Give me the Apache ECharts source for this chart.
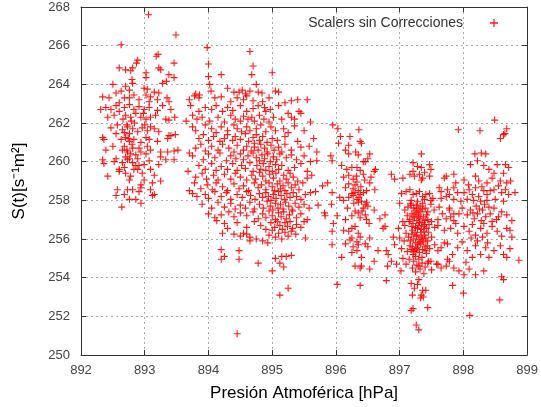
<!DOCTYPE html>
<html>
<head>
<meta charset="utf-8">
<script src="https://cdn.jsdelivr.net/npm/echarts@6/dist/echarts.min.js"></script>
<style>
    html, body { margin: 0; padding: 0; background: #fff; }
    #chart { width: 541px; height: 407px; }
</style>
</head>
<body>
<div id="chart"></div>
<script>
// axis ranges
const xRange = [892, 899];
const yRange = [250, 268];
const seriesName = 'Scalers sin Correcciones';

// points, one array per pressure cluster [hPa, S(t)]
const clusterA = [
    [893.06,267.6],[893.49,266.55],[892.63,266.05],[893.21,265.55],[893.18,265.45],[892.89,265.25],[892.87,265.1],[893.46,265.1],
    [892.6,264.85],[892.7,264.75],[892.78,264.7],[892.81,264.85],[893.22,264.85],[893.25,264.75],[893.02,264.6],[893.02,264.35],[893.38,264.5],[893.46,264.35],[893.34,264.15],[893.28,264.05],[892.8,264.25],[892.81,264.05],
    [892.5,264.0],[892.7,263.9],[892.76,263.7],[892.99,263.8],[893.04,263.75],[893.15,263.6],[893.22,263.55],[893.02,263.45],[892.34,263.35],[892.44,263.3],[892.55,263.55],[892.63,263.65],[892.68,263.3],[892.76,263.3],[892.83,263.45],[892.91,263.2],[893.09,263.35],[893.07,263.1],[893.2,263.2],[893.35,263.3],[893.38,263.1],
    [892.31,262.7],[892.39,262.8],[892.47,262.7],[892.55,262.9],[892.6,263.05],[892.68,262.8],[892.76,262.95],[892.83,262.7],[892.91,262.85],[892.99,262.7],[893.07,262.8],[893.2,262.65],[893.28,262.9],[893.41,262.7],
    [892.42,262.3],[892.52,262.4],[892.6,262.6],[892.7,262.4],[892.78,262.3],[892.86,262.5],[892.94,262.3],[893.02,262.2],[893.09,262.3],[893.17,262.4],[893.33,262.2],[893.38,262.15],
    [892.47,261.75],[892.57,261.9],[892.65,261.65],[892.73,261.8],[892.81,261.7],[892.89,261.55],[892.96,261.75],[893.04,261.6],[893.09,261.8],[893.15,261.7],[893.22,261.55],[893.38,261.35],[892.55,261.45],[892.76,261.45],
    [892.34,261.25],[892.36,261.15],[892.63,261.15],[892.7,261.25],[892.76,261.05],[892.83,261.15],[892.94,261.0],[893.02,261.25],[893.07,261.15],[893.2,261.05],[893.36,261.2],[893.41,261.35],[892.68,260.8],[892.81,260.7],[892.91,260.7],[893.04,260.8],
    [892.5,260.8],[892.39,260.6],[892.65,260.6],[892.73,260.5],[892.78,260.4],[892.86,260.35],[892.94,260.5],[893.02,260.4],[893.09,260.6],[893.25,260.5],[893.36,260.5],[893.46,260.55],[893.25,260.25],[892.7,260.25],[892.76,260.15],[892.89,260.15],[892.55,260.15],
    [892.34,260.1],[892.36,259.9],[892.52,260.0],[892.65,259.95],[892.73,260.1],[892.81,259.95],[892.91,259.8],[892.99,259.85],[893.07,260.05],[893.22,259.85],[893.33,260.1],[893.46,260.1],[892.6,259.6],[892.68,259.7],[892.83,259.6],
    [892.42,259.25],[892.6,259.5],[892.7,259.4],[892.78,259.25],[892.86,259.8],[892.89,259.6],[892.96,259.4],[893.09,259.6],[893.15,259.3],[892.76,259.05],[892.99,259.05],[893.12,258.9],[892.94,258.8],
    [892.73,258.55],[892.81,258.55],[892.94,258.65],[892.57,258.55],[892.68,258.3],[892.91,258.45],[892.55,258.25],[892.76,258.05],[892.86,258.05],[892.94,257.85],[893.09,258.55],[893.12,258.25],[892.64,257.65],
    [893.48,261.4],[893.52,260.6],[893.47,262.3],[893.25,259.0],[893.15,258.3],[892.72,261.9],[892.79,262.1],[892.68,261.5],[892.74,261.2],[892.72,260.6],[892.8,260.9],[892.84,262.0],[892.66,262.2],[893.0,261.9],[892.98,262.5]
];

const clusterB = [
    [893.98,265.9],[894.65,265.7],[894.0,265.05],[894.7,264.95],[894.2,264.5],[894.0,264.4],[894.68,264.5],[895.0,264.6],[894.75,264.0],[894.02,264.0],
    [894.04,263.65],[894.3,263.8],[894.48,263.6],[894.53,263.7],[894.58,263.5],[894.65,263.65],[894.78,263.6],[894.84,263.55],[895.05,263.65],[895.1,263.6],[894.4,263.6],[893.8,263.5],[893.86,263.45],
    [893.7,263.2],[893.78,263.4],[893.85,263.3],[894.1,263.3],[894.2,263.35],[894.35,263.1],[894.45,263.3],[894.55,263.2],[894.6,263.4],[894.7,263.15],[894.85,263.1],[894.95,263.3],[895.4,263.2],[895.55,263.2],[895.2,263.05],[895.3,263.15],
    [893.72,262.9],[893.85,262.6],[893.95,262.8],[894.05,262.7],[894.12,262.9],[894.22,262.6],[894.3,262.8],[894.38,262.65],[894.5,262.9],[894.6,262.6],[894.7,262.75],[894.78,262.9],[894.88,262.8],[894.9,262.6],[894.97,262.7],[895.1,262.9],[895.25,262.5],[895.42,262.6],[895.45,262.5],
    [893.65,262.1],[893.75,262.4],[893.82,262.2],[893.9,262.3],[894.02,262.1],[894.15,262.3],[894.25,262.05],[894.35,262.4],[894.42,262.2],[894.5,262.1],[894.55,262.35],[894.62,262.2],[894.68,262.3],[894.72,262.1],[894.8,262.4],[894.87,262.2],[894.95,262.05],[895.02,262.3],[895.15,262.2],[895.3,262.3],[895.35,262.2],[895.6,262.05],
    [893.75,261.8],[893.8,261.6],[893.95,261.9],[894.05,261.7],[894.12,261.5],[894.2,261.8],[894.3,261.6],[894.4,261.9],[894.45,261.7],[894.52,261.55],[894.6,261.8],[894.65,261.6],[894.75,261.7],[894.82,261.9],[894.9,261.55],[894.98,261.8],[895.05,261.6],[895.18,261.7],[895.25,261.5],[895.35,261.85],[895.5,261.6],
    [893.85,261.2],[893.92,261.4],[894.0,261.1],[894.08,261.3],[894.18,261.05],[894.25,261.2],[894.3,261.4],[894.38,261.1],[894.42,261.3],[894.5,261.15],[894.58,261.45],[894.63,261.05],[894.7,261.25],[894.75,261.4],[894.8,261.1],[894.85,261.3],[894.92,261.0],[895.0,261.2],[895.08,261.1],[895.2,261.3],[895.4,261.05],[895.65,261.2],[894.72,260.95],
    [893.8,260.7],[893.88,260.9],[893.95,260.55],[894.05,260.8],[894.15,260.6],[894.22,260.9],[894.32,260.7],[894.4,260.5],[894.45,260.85],[894.55,260.6],[894.6,260.8],[894.67,260.55],[894.72,260.75],[894.78,260.6],[894.82,260.9],[894.88,260.7],[894.92,260.5],[894.98,260.85],[895.03,260.6],[895.1,260.75],[895.15,260.5],[895.2,260.9],[895.3,260.6],[895.45,260.75],[895.58,260.8],[895.7,260.5],
    [893.7,260.45],[893.75,260.3],[893.92,260.1],[894.0,260.4],[894.1,260.2],[894.18,260.45],[894.28,260.05],[894.35,260.3],[894.43,260.15],[894.5,260.4],[894.55,260.1],[894.62,260.3],[894.7,260.45],[894.75,260.2],[894.8,260.05],[894.84,260.35],[894.88,260.15],[894.93,260.4],[894.97,260.0],[895.02,260.25],[895.07,260.1],[895.12,260.4],[895.22,260.2],[895.3,260.35],[895.38,260.1],[895.5,260.3],[895.6,260.0],[895.7,260.05],
    [893.68,259.5],[893.85,259.8],[893.95,259.6],[894.05,259.9],[894.12,259.55],[894.2,259.75],[894.3,259.6],[894.38,259.9],[894.45,259.55],[894.52,259.8],[894.58,259.65],[894.65,259.95],[894.7,259.5],[894.76,259.8],[894.82,259.6],[894.86,259.9],[894.9,259.55],[894.95,259.75],[895.0,259.5],[895.05,259.85],[895.1,259.6],[895.15,259.8],[895.25,259.55],[895.35,259.7],[895.45,259.9],[895.55,259.5],[895.62,259.3],
    [893.8,259.2],[893.9,259.4],[893.97,259.1],[894.08,259.3],[894.15,259.05],[894.25,259.35],[894.35,259.1],[894.42,259.4],[894.5,259.2],[894.6,259.05],[894.68,259.3],[894.74,259.1],[894.8,259.45],[894.85,259.25],[894.9,259.0],[894.96,259.35],[895.02,259.15],[895.06,259.4],[895.12,259.0],[895.18,259.3],[895.22,259.1],[895.28,259.4],[895.33,259.2],[895.4,259.0],[895.55,259.15],
    [893.7,258.5],[893.78,258.9],[893.88,258.6],[893.98,258.8],[894.06,258.55],[894.12,258.9],[894.22,258.7],[894.3,258.5],[894.4,258.85],[894.48,258.6],[894.55,258.75],[894.63,258.5],[894.72,258.9],[894.78,258.65],[894.83,258.8],[894.9,258.55],[894.95,258.9],[895.0,258.7],[895.04,258.5],[895.08,258.85],[895.13,258.6],[895.17,258.75],[895.2,258.5],[895.25,258.9],[895.3,258.65],[895.36,258.8],[895.42,258.55],[895.48,258.9],[895.6,258.4],[895.68,258.45],
    [893.75,258.35],[893.82,258.2],[893.95,258.3],[894.0,258.1],[894.1,258.45],[894.2,258.2],[894.28,258.4],[894.35,258.05],[894.45,258.3],[894.53,258.15],[894.6,258.45],[894.66,258.25],[894.73,258.05],[894.8,258.35],[894.85,258.15],[894.9,258.4],[894.94,258.2],[894.98,258.0],[895.02,258.3],[895.06,258.1],[895.1,258.45],[895.14,258.25],[895.19,258.05],[895.23,258.35],[895.28,258.15],[895.33,258.4],[895.38,258.2],[895.45,258.05],[895.52,258.3],[895.72,257.75],
    [893.9,257.8],[894.05,257.6],[894.15,257.9],[894.25,257.65],[894.35,257.85],[894.42,257.55],[894.5,257.75],[894.58,257.6],[894.65,257.9],[894.72,257.55],[894.8,257.8],[894.86,257.6],[894.92,257.95],[894.97,257.7],[895.01,257.5],[895.05,257.85],[895.09,257.6],[895.13,257.8],[895.17,257.55],[895.21,257.9],[895.26,257.7],[895.31,257.5],[895.36,257.85],[895.42,257.65],[895.5,257.8],[895.58,257.6],
    [894.0,257.3],[894.1,257.1],[894.2,257.25],[894.32,257.4],[894.4,257.15],[894.5,257.35],[894.6,257.2],[894.7,257.4],[894.78,257.05],[894.85,257.3],[894.9,257.1],[894.95,257.45],[895.0,257.2],[895.05,257.0],[895.1,257.35],[895.14,257.15],[895.18,257.4],[895.22,257.05],[895.27,257.25],[895.32,257.45],[895.38,257.1],[895.45,257.3],[895.55,257.0],
    [894.13,256.95],[894.25,256.8],[894.3,256.55],[894.45,256.85],[894.6,256.6],[894.72,256.9],[894.82,256.7],[894.9,256.5],[894.98,256.85],[895.04,256.6],[895.08,256.9],[895.12,256.7],[895.16,256.5],[895.2,256.85],[895.24,256.65],[895.28,256.9],[895.32,256.55],[895.38,256.75],[895.45,256.6],[895.5,256.9],
    [894.22,256.3],[894.4,256.25],[894.5,256.15],[894.65,256.1],[894.75,256.0],[894.85,255.9],[894.95,256.2],[895.0,256.45],[895.05,256.1],[895.1,256.3],[895.15,256.0],[895.2,256.35],[895.25,256.15],[895.3,256.4],[895.37,256.25],[895.52,256.05],[894.55,256.3],
    [894.2,255.45],[894.25,255.1],[894.2,254.95],[894.48,255.4],[894.48,254.95],[894.65,255.9],[894.78,254.75],[894.93,255.8],[895.15,255.1],[895.22,255.1],[895.12,254.75],[895.3,255.15],[895.18,254.55],[895.0,254.35],[895.25,253.45],[895.12,253.1],[894.45,251.1],[894.6,256.25],[895.05,255.0]
];

const clusterC = [
    [895.95,261.9],[896.03,261.7],[896.36,261.65],[896.07,261.3],[896.22,261.3],[896.04,260.95],[896.2,260.85],[896.38,261.05],[896.4,260.95],
    [896.15,260.6],[896.2,260.4],[896.31,260.5],[896.35,260.35],[896.53,260.4],[896.5,260.15],[896.46,260.0],[896.43,260.0],[895.92,260.3],[895.94,260.05],
    [896.09,259.8],[896.17,259.6],[896.25,259.7],[896.33,259.7],[896.38,259.55],[896.6,259.5],[896.62,259.6],[896.43,259.35],[896.53,258.9],
    [896.12,259.2],[896.2,259.3],[896.27,259.1],[896.33,258.95],[896.2,258.85],[896.15,258.65],[896.27,258.6],[896.3,258.4],[896.35,258.5],[896.38,258.3],[896.43,258.4],[896.48,258.5],[896.61,258.55],
    [896.06,258.15],[896.12,258.0],[896.2,258.15],[896.27,258.25],[896.33,258.05],[896.35,257.9],[896.4,257.95],[896.46,257.8],[896.48,257.9],[896.43,257.6],[896.5,257.7],[896.6,257.5],
    [896.02,257.2],[896.15,257.0],[896.25,257.2],[896.3,257.45],[896.35,257.35],[896.38,257.1],[896.46,257.25],[896.48,257.0],[896.69,257.05],[896.77,257.25],
    [896.12,256.45],[896.2,256.4],[896.25,256.55],[896.3,256.65],[896.35,256.3],[896.38,256.1],[896.25,256.05],[896.33,255.85],[896.53,256.05],[896.74,256.55],[896.9,256.1],[896.77,256.65],
    [895.94,255.7],[896.15,255.75],[896.22,255.95],[896.27,255.6],[896.35,255.7],[896.46,255.75],[896.5,255.6],
    [896.09,255.05],[896.25,255.3],[896.33,255.4],[896.4,255.05],[896.3,254.6],[896.38,254.5],[896.4,254.6],[896.53,254.45],[896.6,254.85],[896.66,255.4],[896.79,255.4],[896.82,255.2],[896.81,254.6],[896.87,254.85],
    [896.02,253.65],[896.38,253.6],[896.79,253.85],
    [895.94,258.4],[895.94,256.4],[895.82,257.35],[895.83,257.2],[895.96,256.8],[895.93,257.8],[895.79,258.75],[895.87,258.9],
    [896.3,258.8],[896.36,258.15],[896.41,257.45],[896.28,257.85],[896.39,258.7],[896.45,259.05],[896.32,259.25],[896.25,258.35],[896.55,259.2],[896.18,257.6],[896.52,256.8]
];

const clusterD = [
    [897.34,260.4],[897.21,259.95],[897.28,259.75],[897.34,259.7],[897.47,259.85],[897.49,259.6],[897.16,259.35],[897.21,259.5],[897.23,259.25],[897.31,259.35],[897.36,259.15],[897.39,259.45],[897.47,259.25],[897.34,259.05],
    [896.87,259.35],[896.92,259.1],[897.05,259.15],
    [897.03,258.35],[897.1,258.45],[897.16,258.55],[897.21,258.3],[897.26,258.35],[897.31,258.45],[897.36,258.2],[897.41,258.3],[897.47,258.35],[897.52,258.1],[897.65,258.1],[897.73,258.2],[897.18,258.0],[897.28,257.95],[897.39,258.05],[897.49,258.0],
    [897.0,257.85],[897.08,257.5],[897.13,257.65],[897.17,257.85],[897.22,257.6],[897.26,257.75],[897.3,257.5],[897.33,257.7],[897.36,257.85],[897.4,257.6],[897.44,257.4],[897.49,257.8],[897.54,257.5],[897.62,257.65],[897.78,257.6],[897.85,257.3],
    [897.12,257.2],[897.16,257.0],[897.19,257.3],[897.21,256.8],[897.23,257.1],[897.25,256.6],[897.27,256.95],[897.29,257.25],[897.3,256.7],[897.32,257.05],[897.34,256.5],[897.35,256.85],[897.37,257.15],[897.38,256.65],[897.4,256.95],[897.42,256.55],[897.44,257.0],[897.46,256.75],[897.5,256.9],[897.55,256.6],[897.6,257.0],[897.08,256.7],[897.05,256.9],[896.98,256.55],[897.26,257.35],[897.33,256.35],
    [897.1,256.3],[897.14,256.1],[897.17,255.9],[897.19,256.25],[897.2,255.6],[897.22,256.0],[897.24,255.4],[897.25,255.8],[897.27,256.2],[897.28,255.55],[897.3,255.95],[897.31,255.3],[897.33,255.75],[897.34,256.1],[897.36,255.45],[897.37,255.85],[897.39,256.2],[897.4,255.6],[897.42,255.25],[897.44,255.9],[897.47,255.5],[897.5,256.1],[897.55,255.7],[897.6,255.4],[897.7,255.8],[897.03,255.5],[897.07,255.9],[897.12,255.35],[897.0,256.05],[896.92,255.7],[897.16,255.65],[897.21,255.2],
    [897.05,255.0],[897.1,254.7],[897.15,254.95],[897.2,254.5],[897.22,254.85],[897.25,254.3],[897.27,254.65],[897.3,254.95],[897.32,254.45],[897.35,254.75],[897.38,254.2],[897.4,254.55],[897.45,254.85],[897.5,254.4],[897.58,254.7],[897.65,254.5],[897.75,254.95],[896.95,254.7],[897.02,254.35],
    [897.18,253.7],[897.23,253.45],[897.28,253.65],[897.34,253.1],[897.36,253.35],[897.41,253.35],[897.3,253.9],[897.2,253.1],[897.21,252.4],[897.18,252.3],[897.44,252.45],[897.26,251.55],[897.3,251.3],[897.37,253.0],[897.33,252.95],
    [897.18,257.75],[897.24,257.45],[897.3,257.15],[897.36,257.55],[897.42,257.25],[897.2,256.45],[897.26,256.15],[897.32,255.85],[897.38,256.4],[897.28,256.55],[897.22,255.35],[897.35,255.05],[897.4,255.4],[897.3,254.6],[897.25,255.1],[897.19,256.65],[897.45,256.35],[897.15,256.9],[897.33,257.4],[897.27,257.6],[897.41,256.05],[897.24,256.35],[897.36,256.0],[897.29,255.7],[897.18,255.45],[897.43,255.65],[897.31,256.85],[897.21,257.15],[897.39,256.75],[897.26,255.5]
];

const clusterE = [
    [898.49,262.15],[897.92,261.65],[898.26,261.6],[898.68,261.7],[898.65,261.45],[898.63,261.4],[898.58,261.2],
    [898.18,260.4],[898.28,260.45],[898.35,260.4],[898.11,259.85],[898.22,260.05],[898.32,259.8],[898.53,259.85],[898.66,259.85],[898.4,259.6],[898.48,259.4],[898.63,259.4],[898.71,259.7],
    [897.7,259.15],[897.73,259.25],[897.85,259.35],[897.88,258.9],[898.01,259.05],[898.19,259.25],[898.24,259.0],[898.37,258.9],[898.45,259.15],[898.58,259.0],[898.68,258.9],[898.74,259.0],[898.81,258.4],
    [897.62,258.65],[897.65,258.45],[897.75,258.55],[897.78,258.3],[897.85,258.65],[897.91,258.4],[898.01,258.4],[898.09,258.55],[898.14,258.3],[898.19,258.65],[898.24,258.2],[898.32,258.5],[898.37,258.3],[898.42,258.5],[898.48,258.55],[898.55,258.75],[898.6,258.4],[898.66,258.55],[898.71,258.3],[897.85,258.05],[897.96,257.95],[898.06,258.05],[898.16,258.0],[898.27,257.95],[898.37,258.0],[898.5,258.05],[898.63,257.95],
    [897.78,257.5],[897.8,257.15],[897.85,256.95],[897.93,257.3],[897.98,257.6],[898.06,257.25],[898.11,257.5],[898.17,257.05],[898.22,257.3],[898.3,257.5],[898.35,257.15],[898.42,257.3],[898.48,257.6],[898.55,257.15],[898.6,257.4],[898.68,257.25],[898.76,256.95],[897.73,257.05],[897.67,257.3],
    [897.7,256.45],[897.8,256.55],[897.88,256.8],[897.91,256.3],[898.01,256.65],[898.09,256.4],[898.14,256.75],[898.19,256.2],[898.27,256.55],[898.32,256.8],[898.37,256.3],[898.45,256.65],[898.53,256.4],[898.6,256.15],[898.68,256.55],[898.73,256.45],[898.76,256.1],[897.6,256.7],
    [897.65,255.55],[897.75,255.75],[897.83,255.2],[897.91,255.55],[897.98,255.85],[898.06,255.4],[898.14,255.05],[898.19,255.65],[898.27,255.2],[898.35,255.55],[898.4,255.05],[898.48,255.4],[898.58,255.65],[898.63,255.2],[898.68,255.05],[898.73,255.5],[898.87,254.9],
    [897.78,254.85],[897.85,254.5],[897.93,254.35],[898.04,254.8],[898.09,254.45],[898.19,254.15],[898.32,254.35],[898.01,254.15],[898.6,254.05],[898.63,253.9],[897.6,254.7],[897.73,254.6],[897.49,254.85],[897.44,254.75],
    [898.0,253.2],[898.57,252.85],[898.1,252.05],[897.83,253.6],
    [898.2,257.7],[898.25,257.55],[898.33,257.8],[898.28,256.95],[898.15,257.35],[898.4,257.65],[898.45,256.9],[898.12,256.05],[898.3,256.1],[898.22,255.9],[898.38,255.8],[898.52,257.0],[898.08,258.8],[898.29,258.7]
];

const plusIcon = 'path://M4.2,0H5.8V10H4.2ZM0,4.2H10V5.8H0Z';
const frameColor = '#333';

const chart = echarts.init(document.getElementById('chart'));

const mirrorAxis = {
    type: 'value',
    axisLine: { show: true, lineStyle: { color: frameColor, width: 1 } },
    axisTick: { show: true, inside: true, length: 5, lineStyle: { color: frameColor } },
    axisLabel: { show: false },
    splitLine: { show: false }
};

chart.setOption({
    animation: false,
    textStyle: { fontFamily: 'Liberation Sans' },
    grid: { left: 81, right: 11, top: 7, bottom: 46 },
    legend: {
        data: [{ name: seriesName, icon: plusIcon }],
        align: 'right',
        right: 38,
        top: 11,
        itemWidth: 52,
        itemHeight: 8,
        textStyle: { color: '#333', fontSize: 14, fontFamily: 'Liberation Sans' }
    },
    xAxis: [
        {
            type: 'value',
            min: xRange[0],
            max: xRange[1],
            interval: 1,
            position: 'bottom',
            name: 'Presión Atmoférica [hPa]',
            nameLocation: 'middle',
            nameGap: 30,
            nameTextStyle: { color: '#000', fontSize: 17, fontFamily: 'Liberation Sans' },
            axisLine: { show: true, lineStyle: { color: frameColor, width: 1 } },
            axisTick: { show: true, inside: true, length: 5, lineStyle: { color: frameColor } },
            axisLabel: { color: '#444', fontSize: 13, margin: 9 },
            splitLine: { show: true, lineStyle: { color: '#aaa', type: [2, 3], width: 1 } }
        },
        Object.assign({ min: xRange[0], max: xRange[1], interval: 1, position: 'top' }, mirrorAxis)
    ],
    yAxis: [
        {
            type: 'value',
            min: yRange[0],
            max: yRange[1],
            interval: 2,
            position: 'left',
            name: 'S(t)[s⁻¹m²]',
            nameLocation: 'middle',
            nameGap: 53,
            nameTextStyle: { color: '#000', fontSize: 17, fontFamily: 'Liberation Sans' },
            axisLine: { show: true, lineStyle: { color: frameColor, width: 1 } },
            axisTick: { show: true, inside: true, length: 5, lineStyle: { color: frameColor } },
            axisLabel: { color: '#444', fontSize: 13, margin: 11 },
            splitLine: { show: true, lineStyle: { color: '#aaa', type: [2, 3], width: 1 } }
        },
        Object.assign({ min: yRange[0], max: yRange[1], interval: 2, position: 'right' }, mirrorAxis)
    ],
    series: [
        {
            name: seriesName,
            type: 'scatter',
            symbol: plusIcon,
            symbolSize: 7,
            itemStyle: { color: '#ff0000', opacity: 0.9 },
            data: [].concat(clusterA, clusterB, clusterC, clusterD, clusterE)
        }
    ]
});
</script>
</body>
</html>
